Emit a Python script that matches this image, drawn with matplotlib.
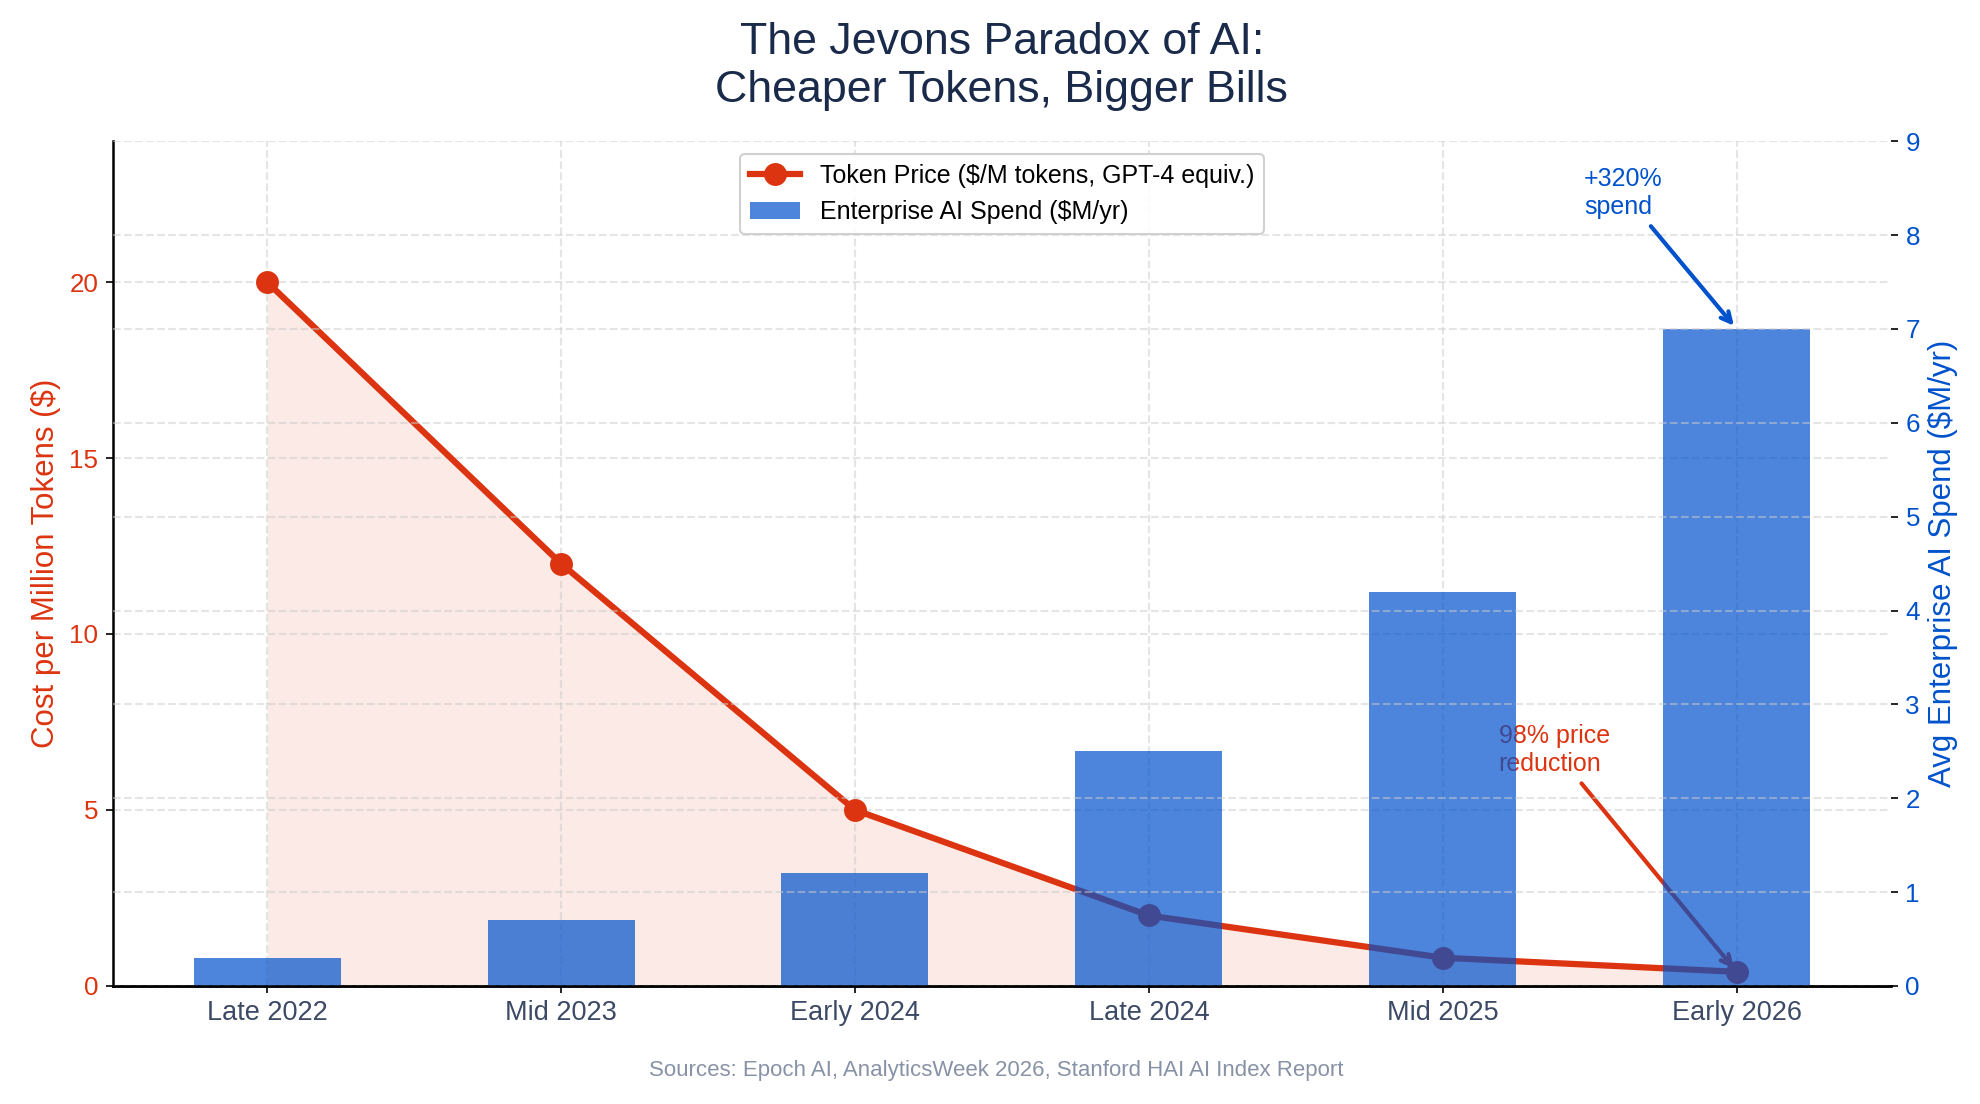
import numpy as np
import matplotlib
matplotlib.use("Agg")
import matplotlib.pyplot as plt

plt.rcParams["font.family"] = ["Liberation Sans", "DejaVu Sans"]

# ==========================
# Data
# ==========================

periods = ["Late 2022", "Mid 2023", "Early 2024", "Late 2024", "Mid 2025", "Early 2026"]
token_price = [20, 12, 5, 2, 0.8, 0.4]
enterprise_spend = [0.3, 0.7, 1.2, 2.5, 4.2, 7.0]

red = "#dc3410"
blue = "#0052cc"
navy = "#1a2a4a"

x = np.arange(len(periods))

# ==========================
# Plot
# ==========================

fig, ax1 = plt.subplots(figsize=(13.2, 7.36), dpi=150)
fig.subplots_adjust(left=0.057, right=0.955, top=0.872, bottom=0.107)

ax1.fill_between(x, token_price, 0, color=red, alpha=0.1, linewidth=0)
line, = ax1.plot(
    x, token_price,
    color=red, linewidth=3, marker="o", markersize=10,
    label="Token Price ($/M tokens, GPT-4 equiv.)",
    zorder=3
)

ax1.set_ylim(0, 24)
ax1.set_yticks([0, 5, 10, 15, 20])
ax1.set_ylabel("Cost per Million Tokens ($)", color=red, fontsize=15)
ax1.tick_params(axis="y", labelcolor=red, labelsize=12.5)
ax1.tick_params(axis="x", labelcolor="#3d4a66", labelsize=13)
ax1.set_xticks(x)
ax1.set_xticklabels(periods)
ax1.grid(True, linestyle="--", color="#cccccc", alpha=0.5, linewidth=1)

ax1.spines["top"].set_visible(False)
ax1.spines["right"].set_visible(False)
ax1.spines["left"].set_linewidth(1.2)
ax1.spines["bottom"].set_linewidth(1.2)

ax1.annotate(
    "98% price\nreduction",
    xy=(x[-1], token_price[-1]),
    xytext=(4.19, 6.7),
    fontsize=12, color=red, ha="left", va="center",
    arrowprops=dict(arrowstyle="->", color=red, lw=2)
)

# ==========================
# Second axis: spend bars
# ==========================

ax2 = ax1.twinx()

bars = ax2.bar(
    x, enterprise_spend, width=0.5,
    color=blue, alpha=0.7,
    label="Enterprise AI Spend ($M/yr)"
)

ax2.set_ylim(0, 9)
ax2.set_ylabel("Avg Enterprise AI Spend ($M/yr)", color=blue, fontsize=15)
ax2.tick_params(axis="y", labelcolor=blue, labelsize=12.5)
ax2.grid(True, axis="y", linestyle="--", color="#cccccc", alpha=0.5, linewidth=1)

for side in ["top", "right", "left"]:
    ax2.spines[side].set_visible(False)
ax2.spines["bottom"].set_linewidth(1.2)
ax2.spines["bottom"].set_zorder(3)

ax2.annotate(
    "+320%\nspend",
    xy=(x[-1], enterprise_spend[-1]),
    xytext=(4.48, 8.45),
    fontsize=12, color=blue, ha="left", va="center",
    arrowprops=dict(arrowstyle="->", color=blue, lw=2)
)

ax2.legend(
    [line, bars],
    [line.get_label(), bars.get_label()],
    loc="upper center", fontsize=12,
    framealpha=0.9, edgecolor="#cccccc"
)

ax1.set_title(
    "The Jevons Paradox of AI:\nCheaper Tokens, Bigger Bills",
    fontsize=21.5, color=navy, pad=19
)

fig.text(
    0.503, 0.025,
    "Sources: Epoch AI, AnalyticsWeek 2026, Stanford HAI AI Index Report",
    ha="center", fontsize=10.7, color="#8892a6"
)

plt.savefig("out.png", dpi=150)
